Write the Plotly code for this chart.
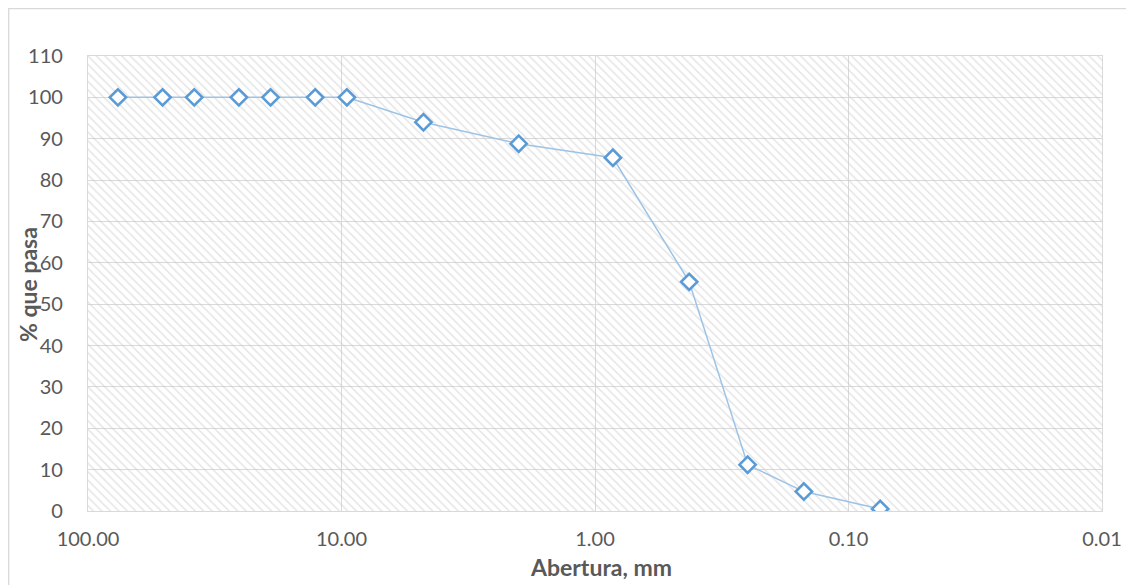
import math
import plotly.graph_objects as go

# Data
abertura_mm = [76.2, 50.8, 38.1, 25.4, 19.05, 12.7, 9.525, 4.75, 2.0, 0.85, 0.425, 0.25, 0.15, 0.075]
pct_pasa = [100, 100, 100, 100, 100, 100, 100, 94.0, 88.8, 85.4, 55.4, 11.2, 4.7, 0.5]
x_ticks = [100, 10, 1, 0.1, 0.01]
x_ticktext = [f"{v:.2f}" for v in x_ticks]
y_ticks = list(range(0, 111, 10))
x_limits = [100, 0.01]
y_limits = [0, 110]

FONT = "Lato"
TXT = "#595959"
GRID = "#d9d9d9"

W, H = 1134, 585
ML, MR, MT, MB = 80, 40, 48, 82
PW, PH = W - ML - MR, H - MT - MB

fig = go.Figure()

# Hatched plot-area background
fig.add_trace(go.Scatter(
    x=[x_limits[0], x_limits[1], x_limits[1], x_limits[0], x_limits[0]],
    y=[y_limits[0], y_limits[0], y_limits[1], y_limits[1], y_limits[0]],
    mode="none", fill="toself", fillcolor="rgba(0,0,0,0)",
    fillpattern=dict(shape="\\", size=6, solidity=0.24, fgcolor="#c8c8c8",
                     bgcolor="rgba(0,0,0,0)", fillmode="overlay"),
    hoverinfo="skip", showlegend=False,
))

fig.add_trace(go.Scatter(
    x=abertura_mm, y=pct_pasa, mode="lines+markers",
    line=dict(color="#9dc3e6", width=1.5),
    marker=dict(symbol="diamond", size=12.5, color="white",
                line=dict(color="#5b9bd5", width=2.6)),
    showlegend=False,
))

fig.update_layout(
    width=W, height=H,
    margin=dict(l=ML, r=MR, t=MT, b=MB),
    paper_bgcolor="white", plot_bgcolor="white",
    font=dict(family=FONT, color=TXT, size=20),
    xaxis=dict(
        type="log", range=[math.log10(x_limits[0]), math.log10(x_limits[1])],
        tickmode="array", tickvals=x_ticks, ticktext=x_ticktext,
        showgrid=True, gridcolor=GRID, gridwidth=1.3,
        showline=True, linecolor=GRID, linewidth=1.3, mirror=True,
        zeroline=False, ticks="", ticklabelstandoff=10, automargin=False,
        tickfont=dict(size=20, color=TXT),
    ),
    yaxis=dict(
        range=y_limits, tickmode="array", tickvals=y_ticks,
        showgrid=True, gridcolor=GRID, gridwidth=1.3,
        showline=True, linecolor=GRID, linewidth=1.3, mirror=True,
        zeroline=False, ticks="", ticklabelstandoff=20, automargin=False,
        tickfont=dict(size=20, color=TXT),
    ),
    annotations=[
        dict(text="<b>Abertura, mm</b>", xref="paper", yref="paper",
             x=(593 - ML) / PW, y=-(559 - (H - MB)) / PH,
             xanchor="center", yanchor="middle", showarrow=False,
             font=dict(size=23, color=TXT, family=FONT)),
        dict(text="<b>% que pasa</b>", xref="paper", yref="paper",
             x=(20 - ML) / PW, y=1 - (285 - MT - 8) / PH,
             xanchor="center", yanchor="middle", showarrow=False, textangle=-90,
             font=dict(size=23, color=TXT, family=FONT)),
    ],
    shapes=[dict(type="rect", xref="paper", yref="paper", layer="below",
                 x0=-(ML - 0.7) / PW, x1=1 + (MR + 20) / PW,
                 y0=-(MB + 20) / PH, y1=1 + (MT - 0.7) / PH,
                 line=dict(color=GRID, width=1.3), fillcolor="rgba(0,0,0,0)")],
)

fig.write_html("out.html")
